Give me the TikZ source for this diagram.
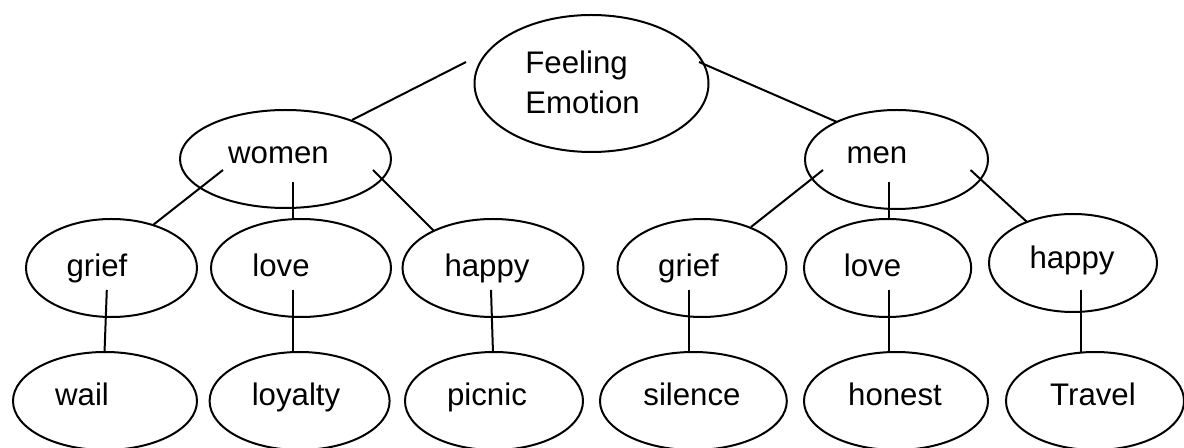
\documentclass[tikz,border=0pt]{standalone}
\usepackage{fontspec}
\setmainfont{Liberation Sans}
\usetikzlibrary{shapes.geometric}
\tikzset{
  ell/.style={draw, ellipse, line width=1pt, inner sep=0pt},
  lbl/.style={font=\fontsize{15.6}{20}\selectfont, inner sep=0pt, anchor=base},
  link/.style={line width=1pt, line cap=butt}
}
\begin{document}
\begin{tikzpicture}[x=0.5pt, y=-0.5pt]
\useasboundingbox (0,0) rectangle (1184,448);
\fill[white] (0,0) rectangle (1184,448);
% ellipses
\node[ell, minimum width=117pt, minimum height=68.5pt] (feel) at (591.5,83.5) {};
\node[ell, minimum width=105.5pt, minimum height=49pt] (women) at (285.5,159) {};
\node[ell, minimum width=91.5pt, minimum height=49.5pt] (men) at (896.5,159.5) {};
\node[ell, minimum width=85.5pt, minimum height=49pt] (wgrief) at (111.5,268) {};
\node[ell, minimum width=90pt, minimum height=49pt] (wlove) at (301,268) {};
\node[ell, minimum width=90.5pt, minimum height=49pt] (whappy) at (493,268) {};
\node[ell, minimum width=84.5pt, minimum height=49pt] (mgrief) at (702,268) {};
\node[ell, minimum width=83.6pt, minimum height=49pt] (mlove) at (887.6,268) {};
\node[ell, minimum width=84pt, minimum height=49pt] (mhappy) at (1073,263) {};
\node[ell, minimum width=92pt, minimum height=49pt] (wail) at (105,401) {};
\node[ell, minimum width=90pt, minimum height=49pt] (loyalty) at (299.6,401) {};
\node[ell, minimum width=89pt, minimum height=49pt] (picnic) at (494,401) {};
\node[ell, minimum width=93.4pt, minimum height=49pt] (silence) at (693.4,401) {};
\node[ell, minimum width=92pt, minimum height=49pt] (honest) at (896,401) {};
\node[ell, minimum width=89pt, minimum height=49pt] (travel) at (1095,401) {};
% labels
\node[lbl, anchor=west, align=left] (feel-t) at (525,82.5) {Feeling\\Emotion};
\node[lbl] (women-t) at (278.5,164) {women};
\node[lbl] (men-t) at (877,164) {men};
\node[lbl] (wgrief-t) at (97,277) {grief};
\node[lbl] (wlove-t) at (281,277) {love};
\node[lbl] (whappy-t) at (487,277) {happy};
\node[lbl] (mgrief-t) at (688.5,277) {grief};
\node[lbl] (mlove-t) at (872.5,277) {love};
\node[lbl] (mhappy-t) at (1072,269) {happy};
\node[lbl] (wail-t) at (82,406) {wail};
\node[lbl] (loyalty-t) at (296,406) {loyalty};
\node[lbl] (picnic-t) at (487,406) {picnic};
\node[lbl] (silence-t) at (692,406) {silence};
\node[lbl] (honest-t) at (895,406) {honest};
\node[lbl] (travel-t) at (1093,406) {Travel};
% connector end points
\coordinate (fw1) at (466,62);   \coordinate (fw2) at (352,120);
\coordinate (fm1) at (699,62);   \coordinate (fm2) at (837,122);
\coordinate (wg1) at (223,170);  \coordinate (wg2) at (153,225);
\coordinate (wl1) at (293,182);  \coordinate (wl2) at (293,219);
\coordinate (wh1) at (373,170);  \coordinate (wh2) at (434,231);
\coordinate (mg1) at (823,170);  \coordinate (mg2) at (751,227);
\coordinate (ml1) at (889,182);  \coordinate (ml2) at (889,219);
\coordinate (mh1) at (970.5,170);\coordinate (mh2) at (1027,222);
\coordinate (gw1) at (106.8,290);\coordinate (gw2) at (104.5,353);
\coordinate (ll1) at (293,290);  \coordinate (ll2) at (293,353);
\coordinate (hp1) at (491,290);  \coordinate (hp2) at (493,353);
\coordinate (gs1) at (689,290);  \coordinate (gs2) at (689,353);
\coordinate (lh1) at (889,290);  \coordinate (lh2) at (889,353);
\coordinate (ht1) at (1081,290); \coordinate (ht2) at (1081,353);
% connectors
\draw[link] (fw1) -- (fw2);
\draw[link] (fm1) -- (fm2);
\draw[link] (wg1) -- (wg2);
\draw[link] (wl1) -- (wl2);
\draw[link] (wh1) -- (wh2);
\draw[link] (mg1) -- (mg2);
\draw[link] (ml1) -- (ml2);
\draw[link] (mh1) -- (mh2);
\draw[link] (gw1) -- (gw2);
\draw[link] (ll1) -- (ll2);
\draw[link] (hp1) -- (hp2);
\draw[link] (gs1) -- (gs2);
\draw[link] (lh1) -- (lh2);
\draw[link] (ht1) -- (ht2);
\end{tikzpicture}
\end{document}
